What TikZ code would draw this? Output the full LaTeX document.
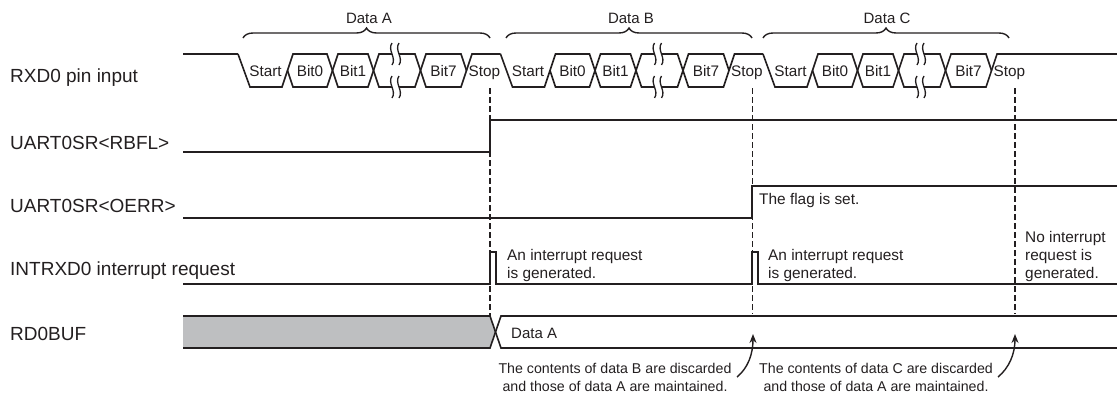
\documentclass[tikz,border=0pt]{standalone}
\usepackage{fontspec}
\setmainfont{Liberation Sans}
\usetikzlibrary{decorations.pathreplacing,arrows.meta}
\definecolor{ink}{HTML}{231F20}
\definecolor{bufgray}{HTML}{BEBFC1}
\begin{document}
\begin{tikzpicture}[x=1pt,y=-1pt,
  sig/.style={draw=ink, line width=1.6pt, line join=miter},
  dashln/.style={draw=ink, line width=1.8pt, dash pattern=on 6pt off 3pt},
  brc/.style={draw=ink, line width=1.4pt, decorate, decoration={brace, amplitude=10pt}},
  wig/.style={draw=ink, line width=1.3pt},
  arr/.style={draw=ink, line width=1.4pt, -{Stealth[length=9pt,width=7pt]}},
  lbl/.style={anchor=base west, inner sep=0pt, font=\fontsize{19}{22}\selectfont, text=ink},
  cell/.style={anchor=base, inner sep=0pt, font=\fontsize{15.3}{18}\selectfont, text=ink},
  toplbl/.style={anchor=base, inner sep=0pt, font=\fontsize{15}{18}\selectfont, text=ink},
  note/.style={anchor=base west, inner sep=0pt, align=left, font=\fontsize{15.4}{18}\selectfont, text=ink},
  foot/.style={anchor=base, inner sep=0pt, font=\fontsize{14.2}{18}\selectfont, text=ink}
]
\useasboundingbox (0,0) rectangle (1117,394);

% ---------- row labels ----------
\node[lbl] (lrxd)  at (10,82)  {RXD0 pin input};
\node[lbl] (lrbfl) at (10,149) {UART0SR<RBFL>};
\node[lbl] (loerr) at (10,212) {UART0SR<OERR>};
\node[lbl] (lint)  at (10,275) {INTRXD0 interrupt request};
\node[lbl] (lbuf)  at (10,340) {RD0BUF};

% ---------- braces over frames ----------
\draw[brc] (243,38) -- (490,38);
\draw[brc] (506,38) -- (752,38);
\draw[brc] (763,38) -- (1009,38);
\node[toplbl] (dA) at (369,23.3) {Data A};
\node[toplbl] (dB) at (631,23.3) {Data B};
\node[toplbl] (dC) at (887,23.3) {Data C};

% ---------- RXD0 pin input ----------
\draw[sig] (183,54) -- (238,54);
\foreach \s/\n [count=\i] in {238/500.5, 500.5/763, 763/1117}{
  \draw[sig] ({\s},54) -- ({\s+12},87) -- ({\s+44},87) -- ({\s+55},54)
     -- ({\s+89},54) -- ({\s+100},87) -- ({\s+130},87) -- ({\s+141},54)
     -- ({\s+177},54) -- ({\s+188},87) -- ({\s+223},87) -- ({\s+234},54) -- ({\n},54);
  \draw[sig] ({\s+49.5},70.5) -- ({\s+55},87) -- ({\s+89},87) -- ({\s+100},54)
     -- ({\s+130},54) -- ({\s+141},87) -- ({\s+177},87) -- ({\s+188},54)
     -- ({\s+223},54) -- ({\s+228.5},70.5);
  % break marks
  \foreach \yy in {43,76}{
    \fill[white] ({\s+154},\yy) .. controls ({\s+149},\yy+7) and ({\s+159},\yy+15) .. ({\s+154},\yy+22)
       -- ({\s+161},\yy+22) .. controls ({\s+166},\yy+15) and ({\s+156},\yy+7) .. ({\s+161},\yy) -- cycle;
    \draw[wig] ({\s+154},\yy) .. controls ({\s+149},\yy+7) and ({\s+159},\yy+15) .. ({\s+154},\yy+22);
    \draw[wig] ({\s+161},\yy) .. controls ({\s+156},\yy+7) and ({\s+166},\yy+15) .. ({\s+161},\yy+22);
  }
  \node[cell] (start\i) at ({\s+27.5},76.5) {Start};
  \node[cell] (bitz\i)  at ({\s+72},76.5)   {Bit0};
  \node[cell] (bito\i)  at ({\s+115},76.5)  {Bit1};
  \node[cell] (bits\i)  at ({\s+205.5},76.5) {Bit7};
  \node[cell, anchor=base west] (stop\i) at ({\s+230.5},76.5) {Stop};
}

% ---------- UART0SR<RBFL> ----------
\draw[sig] (183,152) -- (490,152) -- (490,120) -- (1117,120);
% ---------- UART0SR<OERR> ----------
\draw[sig] (183,218) -- (752,218) -- (752,186) -- (1117,186);
\node[note] (flag) at (759,204) {The flag is set.};
% ---------- INTRXD0 ----------
\draw[sig] (183,284) -- (490,284) -- (490,252) -- (496,252) -- (496,284)
   -- (752,284) -- (752,252) -- (758,252) -- (758,284) -- (1117,284);
\node[note] (irq1a) at (507,260) {An interrupt request};
\node[note] (irq1b) at (507,278) {is generated.};
\node[note] (irq2a) at (768,260) {An interrupt request};
\node[note] (irq2b) at (768,278) {is generated.};
\node[note] (noirqa) at (1025,242) {No interrupt};
\node[note] (noirqb) at (1025,260) {request is};
\node[note] (noirqc) at (1025,278) {generated.};

% ---------- RD0BUF ----------
\fill[bufgray] (183,316) -- (490,316) -- (495.5,332) -- (490,348) -- (183,348) -- cycle;
\draw[sig] (183,316) -- (490,316) -- (501,348) -- (1117,348);
\draw[sig] (183,348) -- (490,348) -- (501,316) -- (1117,316);
\node[note, font=\fontsize{15}{18}\selectfont] (bufA) at (511,338) {Data A};

% ---------- dashed time markers ----------
\coordinate (t1a) at (490,88);  \coordinate (t1b) at (490,316);
\coordinate (t2a) at (752.5,88); \coordinate (t2b) at (752.5,314);
\coordinate (t3a) at (1015,88); \coordinate (t3b) at (1015,314);
\draw[dashln] (t1a) -- (t1b);
\draw[dashln] (t2a) -- (t2b);
\draw[dashln] (t3a) -- (t3b);

% ---------- bottom notes and arrows ----------
\node[foot] (fB1) at (615,373) {The contents of data B are discarded};
\node[foot] (fB2) at (615,391) {and those of data A are maintained.};
\node[foot] (fC1) at (876,373) {The contents of data C are discarded};
\node[foot] (fC2) at (876,391) {and those of data A are maintained.};
\coordinate (a1s) at (737,377); \coordinate (a1e) at (753,334);
\coordinate (a2s) at (998,377); \coordinate (a2e) at (1015,334);
\draw[arr] (a1s) .. controls (748,368) and (753,354) .. (a1e);
\draw[arr] (a2s) .. controls (1009,368) and (1015,354) .. (a2e);
\end{tikzpicture}
\end{document}
